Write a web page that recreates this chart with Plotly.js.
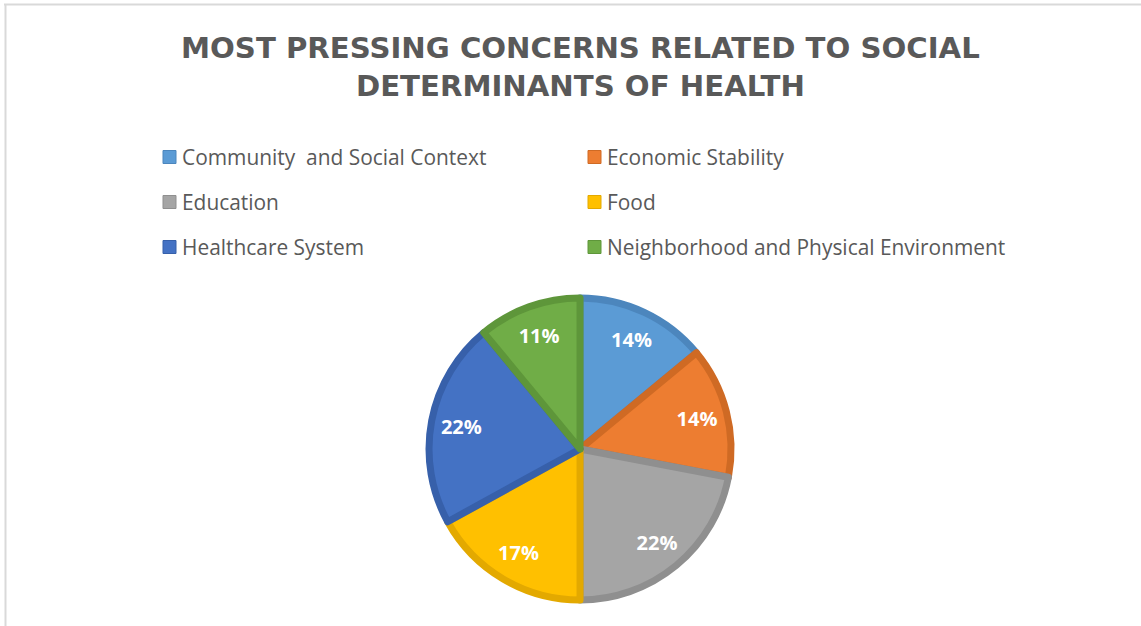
<!DOCTYPE html>
<html>
<head>
<meta charset="utf-8">
<script src="https://cdn.plot.ly/plotly-3.0.1.min.js"></script>
<style>html,body{margin:0;padding:0;background:#fff;}#chart{width:1141px;height:626px;}</style>
</head>
<body>
<div id="chart"></div>
<script>
const categories = ["Community  and Social Context", "Economic Stability", "Education", "Food", "Healthcare System", "Neighborhood and Physical Environment"];
const shares = [14, 14, 22, 17, 22, 11];
const sliceColors = ["#5B9BD5", "#ED7D31", "#A5A5A5", "#FFC000", "#4472C4", "#70AD47"];
const edgeColors = ["#4C86BD", "#CF6A24", "#8F8F8F", "#E3A900", "#3760AA", "#5E963A"];
const titleText = "MOST PRESSING CONCERNS RELATED TO SOCIAL<br>DETERMINANTS OF HEALTH";

const W = 1141, H = 626;
const FONT = "Open Sans, sans-serif";
const pieDomain = {x: [0.376, 0.6407], y: [0.0415, 0.524]};

// main pie: slices
const pie = {
  type: "pie",
  labels: categories,
  values: shares,
  sort: false,
  direction: "clockwise",
  rotation: 0,
  marker: {colors: sliceColors, line: {color: edgeColors, width: 7}},
  textinfo: "none",
  hoverinfo: "label+percent",
  showlegend: false,
  domain: pieDomain
};
// same data as a transparent ring, only to place the percent labels further out
const labelsRing = {
  type: "pie",
  labels: categories,
  values: shares,
  sort: false,
  direction: "clockwise",
  rotation: 0,
  hole: 0.6,
  marker: {colors: sliceColors.map(() => "rgba(0,0,0,0)"), line: {width: 0}},
  texttemplate: "%{percent:.0%}",
  textposition: "inside",
  insidetextorientation: "horizontal",
  insidetextfont: {family: FONT, size: 20, color: "#ffffff", weight: 700},
  hoverinfo: "skip",
  showlegend: false,
  domain: pieDomain
};

// legend built from the category / colour arrays (2 columns, 3 rows)
const legCols = [163, 588], legRows = [157, 202, 247], sq = 13;
const shapes = [], annotations = [];
categories.forEach((c, i) => {
  const col = i % 2, row = Math.floor(i / 2);
  const x0 = legCols[col], yc = legRows[row];
  shapes.push({type: "rect", xref: "paper", yref: "paper",
    x0: x0 / W, x1: (x0 + sq) / W, y0: 1 - (yc + sq / 2) / H, y1: 1 - (yc - sq / 2) / H,
    fillcolor: sliceColors[i], line: {color: edgeColors[i], width: 1}});
  annotations.push({xref: "paper", yref: "paper", x: (x0 + sq + 4) / W, y: 1 - yc / H,
    xanchor: "left", yanchor: "middle", showarrow: false, text: c,
    font: {family: FONT, size: 20.9, color: "#595959"}});
});
// title
annotations.push({xref: "paper", yref: "paper", x: 580 / W, y: 1 - 67.5 / H,
  xanchor: "center", yanchor: "middle", showarrow: false, text: titleText,
  font: {family: "DejaVu Sans, sans-serif", size: 29.2, color: "#595959", weight: 700}});
// frame
shapes.push({type: "line", xref: "paper", yref: "paper", x0: 4 / W, x1: 1, y0: 1 - 4.5 / H, y1: 1 - 4.5 / H, line: {color: "#d9d9d9", width: 2}});
shapes.push({type: "line", xref: "paper", yref: "paper", x0: 5.5 / W, x1: 5.5 / W, y0: 0, y1: 1 - 4.5 / H, line: {color: "#d9d9d9", width: 2}});

const layout = {
  width: W, height: H,
  margin: {l: 0, r: 0, t: 0, b: 0},
  paper_bgcolor: "#ffffff",
  showlegend: false,
  shapes: shapes,
  annotations: annotations
};

Plotly.newPlot("chart", [pie, labelsRing], layout, {displayModeBar: false, staticPlot: true});
</script>
</body>
</html>
